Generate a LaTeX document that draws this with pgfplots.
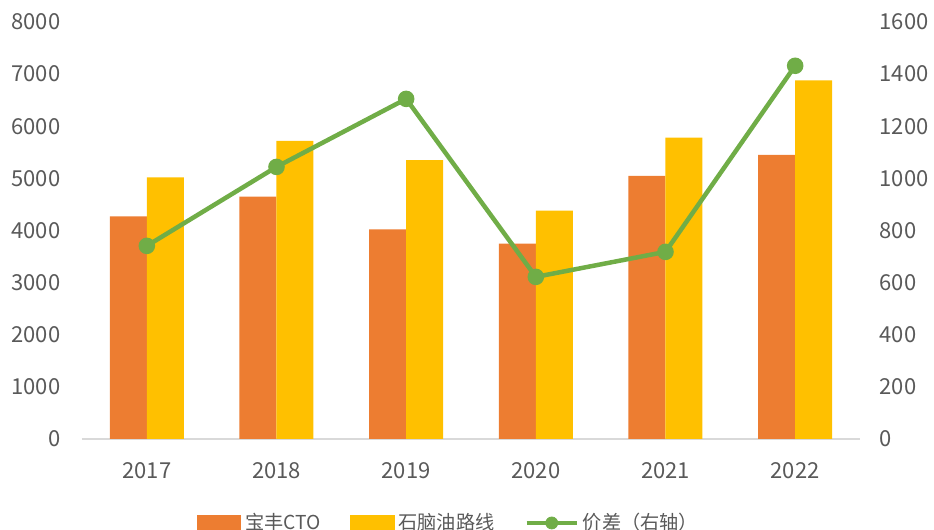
\documentclass[border=0pt]{standalone}
\usepackage{fontspec}
\setmainfont{Noto Sans CJK SC}
\usepackage{pgfplots}
\pgfplotsset{compat=1.18}
\definecolor{cor}{HTML}{ED7D31}
\definecolor{cye}{HTML}{FFC000}
\definecolor{cgr}{HTML}{70AD47}
\definecolor{txt}{HTML}{595959}
\definecolor{axl}{HTML}{D9D9D9}
\begin{document}
\begin{tikzpicture}[x=1pt,y=1pt]
\path[use as bounding box] (0,0) rectangle (467,265);
\begin{axis}[
  at={(41pt,45.5pt)}, anchor=south west, scale only axis,
  width=389pt, height=208.5pt,
  xmin=-0.5, xmax=5.5, ymin=0, ymax=8000,
  xtick={0,1,2,3,4,5}, xticklabels={2017,2018,2019,2020,2021,2022},
  ytick={0,1000,...,8000},
  axis x line*=bottom, axis y line*=left,
  x axis line style={draw=axl, line width=0.75pt, -},
  y axis line style={draw=none},
  major tick length=0pt,
  ybar=0pt, bar width=18.5pt,
  tick label style={font=\fontsize{11}{13}\selectfont, text=txt},
  /pgf/number format/assume math mode=true,
  /pgf/number format/1000 sep={},
  yticklabel style={xshift=-7.3pt},
  xticklabel style={yshift=-8pt},
  legend style={at={(0.4725,-0.2014)}, anchor=center, draw=none, fill=none,
    font=\fontsize{9.6}{11}\selectfont, text=txt,
    /tikz/every even column/.append style={column sep=13pt},
    legend cell align=left},
  legend columns=3,
]
\addplot[fill=cor, draw=none,
  legend image code/.code={\fill[cor] (0pt,-3.75pt) rectangle (22pt,3.75pt);}]
  coordinates {(0,4270) (1,4650) (2,4020) (3,3750) (4,5050) (5,5450)};
\addlegendentry{宝丰CTO}
\addplot[fill=cye, draw=none,
  legend image code/.code={\fill[cye] (0pt,-3.75pt) rectangle (22pt,3.75pt);}]
  coordinates {(0,5020) (1,5720) (2,5350) (3,4380) (4,5780) (5,6880)};
\addlegendentry{石脑油路线}
\addlegendimage{legend image code/.code={\draw[cgr, line width=2.25pt] (0pt,0pt) -- (25pt,0pt); \fill[cgr] (12.5pt,0pt) circle (3pt);}}
\addlegendentry{价差（右轴）}
\end{axis}
\begin{axis}[
  at={(41pt,45.5pt)}, anchor=south west, scale only axis,
  width=389pt, height=208.5pt,
  xmin=-0.5, xmax=5.5, ymin=0, ymax=1600,
  axis x line=none, axis y line*=right,
  y axis line style={draw=none},
  ytick={0,200,...,1600},
  major tick length=0pt,
  tick label style={font=\fontsize{11}{13}\selectfont, text=txt},
  /pgf/number format/assume math mode=true,
  /pgf/number format/1000 sep={},
  yticklabel style={xshift=6.3pt},
]
\addplot[cgr, line width=2.25pt, mark=*, mark size=3pt, mark options={fill=cgr, draw=cgr}]
  coordinates {(0,741) (1,1044) (2,1305) (3,622) (4,718) (5,1432)};
\end{axis}
\end{tikzpicture}
\end{document}
